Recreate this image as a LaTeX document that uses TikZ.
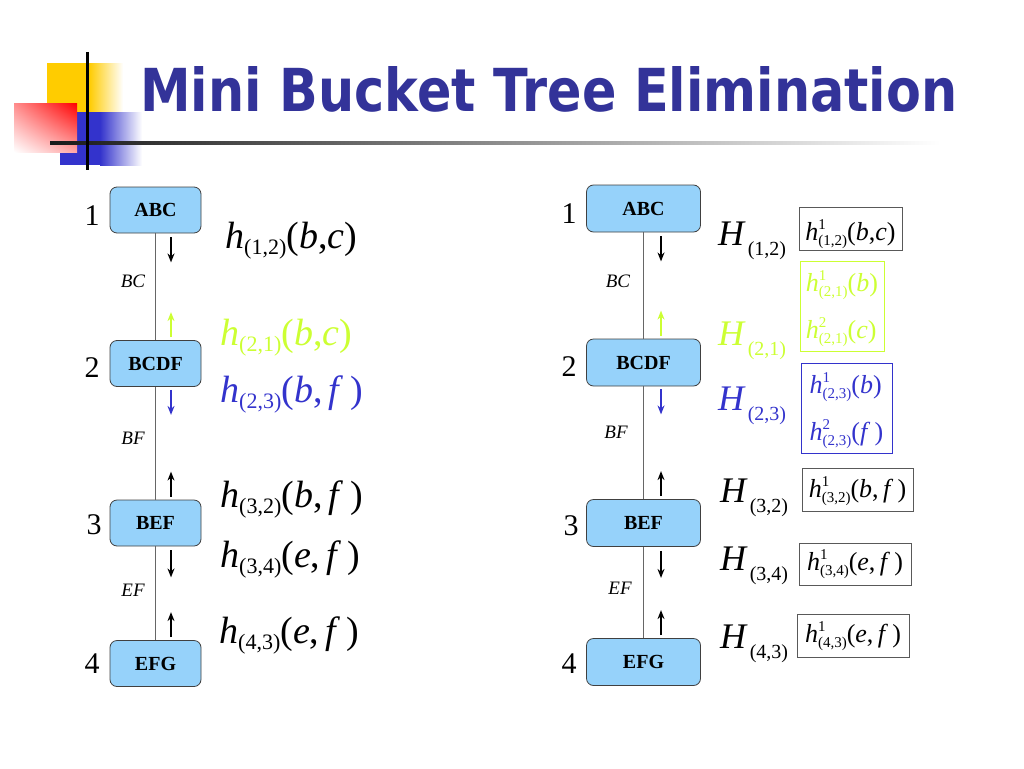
\documentclass[tikz,border=0pt]{standalone}
\usepackage{fontspec}
\setmainfont{Liberation Serif}
\newfontfamily\titlefont{DejaVu Sans}
\usepackage{graphicx}
\usetikzlibrary{calc,arrows.meta,shadings}

\definecolor{titleblue}{RGB}{51,51,153}
\definecolor{msggreen}{RGB}{204,255,51}
\definecolor{msgblue}{RGB}{51,51,204}
\definecolor{bucketfill}{RGB}{150,210,250}
\definecolor{logoyellow}{RGB}{255,204,0}
\definecolor{logoblue}{RGB}{51,51,204}

\def\iv#1{\textit{#1}}
\def\hsub#1{\raisebox{-6pt}{\fontsize{22}{22}\selectfont(#1)}}
\def\hfn#1#2{\textit{h}\hsub{#1}(#2)}
\def\Hfn#1{\textit{H}\kern2pt\raisebox{-10pt}{\fontsize{20}{20}\selectfont(#1)}}
\def\hmini#1#2#3{\textit{h}\rlap{\raisebox{11pt}{\fontsize{15}{15}\selectfont#1}}\raisebox{-5pt}{\fontsize{15}{15}\selectfont(#2)}(#3)}

\tikzset{
  bucket/.style={draw=black!75, fill=bucketfill, rounded corners=7pt, line width=0.8pt,
    inner sep=0pt, font=\bfseries\fontsize{20}{20}\selectfont},
  treeline/.style={draw=black!60, line width=1pt},
  msg/.style={-{Stealth[length=9pt,width=7pt]}, line width=1.4pt},
  sepset/.style={font=\itshape\fontsize{19}{19}\selectfont, inner sep=0pt},
  num/.style={font=\fontsize{30}{30}\selectfont, inner sep=0pt, anchor=base},
  hlab/.style={font=\fontsize{38}{38}\selectfont, inner sep=0pt, anchor=base west},
  Hlab/.style={font=\fontsize{36}{36}\selectfont, inner sep=0pt, anchor=base west},
  funbox/.style={draw=black!65, line width=0.8pt, inner sep=0pt,
    font=\fontsize{26}{47}\selectfont, align=left}
}

\begin{document}
\begin{tikzpicture}[x=1pt,y=-1pt]
\useasboundingbox (0,0) rectangle (1024,768);

% logo
\fill[logoyellow] (47,63) rectangle (89,112);
\shade[left color=logoyellow, right color=white] (89,63) rectangle (123,112);
\fill[logoblue] (60,112) rectangle (100,165);
\shade[left color=logoblue, right color=white] (100,112) rectangle (142,165);
\shade[upper left=red!45!white, upper right=red, lower left=white, lower right=red!35!white]
  (14,103) rectangle (77,152);
\shade[left color=black!90, middle color=black!50, right color=white] (50,141.5) rectangle (940,144.5);
\draw[line width=3pt] (87,52) -- (87,170);

\node[anchor=base west, inner sep=0pt, text=titleblue] (title) at (140,111)
  {\resizebox{817pt}{45pt}{\titlefont\bfseries Mini Bucket Tree Elimination}};

% bucket tree, left
\begin{scope}[every node/.append style={minimum width=91pt, minimum height=46pt}]
  \node[bucket] (b1l) at (155.5,210) {ABC};
  \node[bucket] (b2l) at (155.5,363.5) {BCDF};
  \node[bucket] (b3l) at (155.5,523) {BEF};
  \node[bucket] (b4l) at (155.5,663.5) {EFG};
\end{scope}
\draw[treeline] (b1l) -- (b2l);
\draw[treeline] (b2l) -- (b3l);
\draw[treeline] (b3l) -- (b4l);

\node[num] (n1l) at (92,225) {1};
\node[num] (n2l) at (92,377) {2};
\node[num] (n3l) at (94,534) {3};
\node[num] (n4l) at (92,673) {4};

\node[sepset] (s12l) at (133,281) {BC};
\node[sepset] (s23l) at (133,438) {BF};
\node[sepset] (s34l) at (133,590) {EF};

\draw[msg] ($(b1l.south)+(15.5,4)$) -- ++(0,25);
\draw[msg, msggreen] ($(b2l.north)+(15.5,-3)$) -- ++(0,-25);
\draw[msg, msgblue] ($(b2l.south)+(15.5,3)$) -- ++(0,25);
\draw[msg] ($(b3l.north)+(15.5,-3)$) -- ++(0,-25);
\draw[msg] ($(b3l.south)+(15.5,4)$) -- ++(0,27);
\draw[msg] ($(b4l.north)+(15.5,-3)$) -- ++(0,-25);

\node[hlab] (h12) at (225,248) {\hfn{1,2}{\iv{b},\iv{c}}};
\node[hlab, text=msggreen] (h21) at (220,345) {\hfn{2,1}{\iv{b},\iv{c}}};
\node[hlab, text=msgblue] (h23) at (220,402) {\hfn{2,3}{\iv{b},\,\iv{f}\,}};
\node[hlab] (h32) at (220,507) {\hfn{3,2}{\iv{b},\,\iv{f}\,}};
\node[hlab] (h34) at (220,567) {\hfn{3,4}{\iv{e},\,\iv{f}\,}};
\node[hlab] (h43) at (219,643) {\hfn{4,3}{\iv{e},\,\iv{f}\,}};

% bucket tree, right
\begin{scope}[every node/.append style={minimum width=114pt, minimum height=47pt}]
  \node[bucket] (b1r) at (643.5,208.5) {ABC};
  \node[bucket] (b2r) at (643.5,362.5) {BCDF};
  \node[bucket] (b3r) at (643.5,523) {BEF};
  \node[bucket] (b4r) at (643.5,662) {EFG};
\end{scope}
\draw[treeline] (b1r) -- (b2r);
\draw[treeline] (b2r) -- (b3r);
\draw[treeline] (b3r) -- (b4r);

\node[num] (n1r) at (569,223) {1};
\node[num] (n2r) at (569,376) {2};
\node[num] (n3r) at (571,535) {3};
\node[num] (n4r) at (569,673) {4};

\node[sepset] (s12r) at (618,281) {BC};
\node[sepset] (s23r) at (616,432) {BF};
\node[sepset] (s34r) at (620,588) {EF};

\draw[msg] ($(b1r.south)+(17.5,4)$) -- ++(0,25);
\draw[msg, msggreen] ($(b2r.north)+(17.5,-3)$) -- ++(0,-25);
\draw[msg, msgblue] ($(b2r.south)+(17.5,3)$) -- ++(0,25);
\draw[msg] ($(b3r.north)+(17.5,-3)$) -- ++(0,-25);
\draw[msg] ($(b3r.south)+(17.5,4)$) -- ++(0,27);
\draw[msg] ($(b4r.north)+(17.5,-3)$) -- ++(0,-25);

\node[Hlab] (H12) at (718,245) {\Hfn{1,2}};
\node[Hlab, text=msggreen] (H21) at (718,345) {\Hfn{2,1}};
\node[Hlab, text=msgblue] (H23) at (718,410) {\Hfn{2,3}};
\node[Hlab] (H32) at (720,502) {\Hfn{3,2}};
\node[Hlab] (H34) at (720,570) {\Hfn{3,4}};
\node[Hlab] (H43) at (720,648) {\Hfn{4,3}};

\node[funbox, minimum width=103pt, minimum height=43pt, text height=33pt, text depth=10pt] (f12)
  at (850.5,228.5) {\hmini{1}{1,2}{\iv{b},\iv{c}}};
\node[funbox, draw=msggreen, text=msggreen, minimum width=84pt, minimum height=90pt,
  text height=77pt, text depth=13pt] (f21) at (842,306)
  {\hmini{1}{2,1}{\iv{b}}\\\hmini{2}{2,1}{\iv{c}}};
\node[funbox, draw=msgblue, text=msgblue, minimum width=91pt, minimum height=90pt,
  text height=77pt, text depth=13pt] (f23) at (846.5,408)
  {\hmini{1}{2,3}{\iv{b}}\\\hmini{2}{2,3}{\iv{f}\,}};
\node[funbox, minimum width=111pt, minimum height=43pt, text height=29pt, text depth=14pt] (f32)
  at (857.5,489.5) {\hmini{1}{3,2}{\iv{b},\,\iv{f}\,}};
\node[funbox, minimum width=112pt, minimum height=42pt, text height=27pt, text depth=15pt] (f34)
  at (855,564) {\hmini{1}{3,4}{\iv{e},\,\iv{f}\,}};
\node[funbox, minimum width=112pt, minimum height=43pt, text height=28pt, text depth=15pt] (f43)
  at (853,635.5) {\hmini{1}{4,3}{\iv{e},\,\iv{f}\,}};

\end{tikzpicture}
\end{document}
